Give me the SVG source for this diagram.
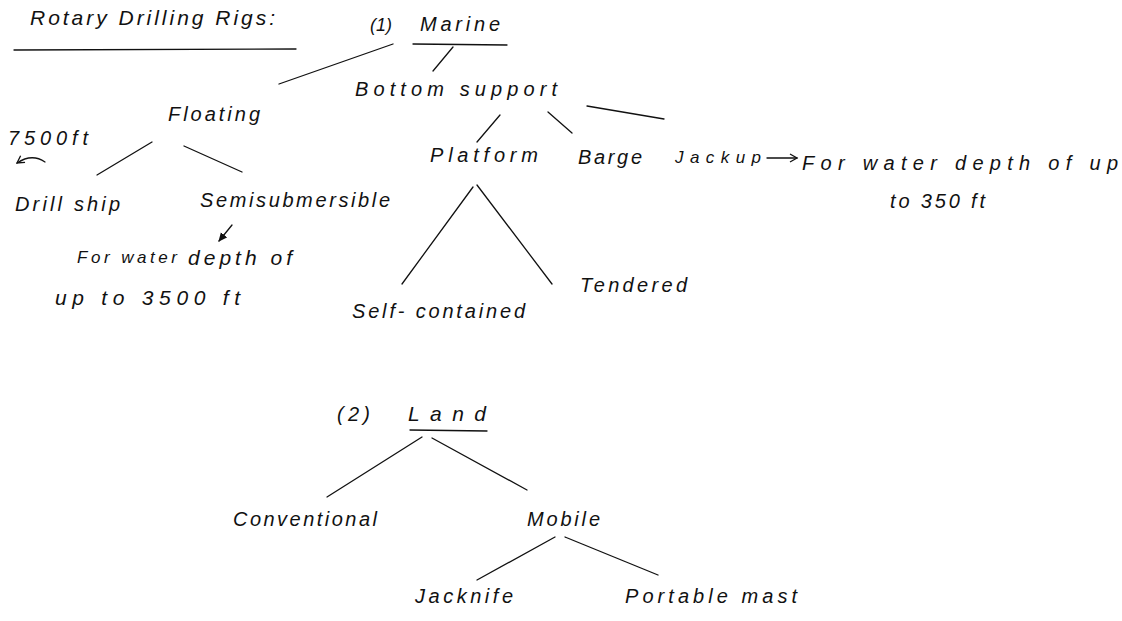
<svg xmlns="http://www.w3.org/2000/svg" width="1122" height="621" viewBox="0 0 1122 621">
<style>
.t{font-family:"Liberation Sans","DejaVu Sans",sans-serif;font-style:italic;fill:#111;font-size:20px}
.s{font-size:17px}
.b{font-size:21px}
.c line,.c path,.u{stroke:#111;stroke-width:1.3;fill:none;stroke-linecap:round}
</style>
<defs>
<marker id="open" markerWidth="10" markerHeight="10" refX="8" refY="5" orient="auto" markerUnits="userSpaceOnUse">
<path d="M1,1 L8,5 L1,9" fill="none" stroke="#111" stroke-width="1.3"/>
</marker>
<marker id="fill" markerWidth="10" markerHeight="10" refX="8" refY="5" orient="auto" markerUnits="userSpaceOnUse">
<path d="M0,1 L9,5 L0,9 Z" fill="#111"/>
</marker>
</defs>
<rect width="1122" height="621" fill="#fff"/>

<g id="title">
<text class="t b" x="30" y="25" textLength="245" lengthAdjust="spacing">Rotary Drilling Rigs:</text>
<line class="u" x1="14" y1="50" x2="296" y2="49"/>
</g>
<g id="marine">
<text class="t" x="370" y="31" textLength="22" lengthAdjust="spacing" style="font-size:18px">(1)</text>
<text class="t" x="420" y="31" textLength="80" lengthAdjust="spacing">Marine</text>
<line class="u" x1="413" y1="44" x2="507" y2="45"/>
</g>
<g id="floating"><text class="t" x="168" y="121" textLength="92" lengthAdjust="spacing">Floating</text></g>
<g id="bottom-support"><text class="t" x="355" y="96" textLength="202" lengthAdjust="spacing">Bottom support</text></g>
<g id="note-7500"><text class="t" x="8" y="145" textLength="80" lengthAdjust="spacing">7500ft</text></g>
<g id="drill-ship"><text class="t" x="15" y="211" textLength="105" lengthAdjust="spacing">Drill ship</text></g>
<g id="semisubmersible"><text class="t" x="200" y="207" textLength="190" lengthAdjust="spacing">Semisubmersible</text></g>
<g id="note-3500">
<text class="t s" x="77" y="263" textLength="100" lengthAdjust="spacing">For water</text>
<text class="t b" x="188" y="265" textLength="104" lengthAdjust="spacing">depth of</text>
<text class="t b" x="55" y="305" textLength="185" lengthAdjust="spacing">up to 3500 ft</text>
</g>
<g id="platform"><text class="t" x="430" y="162" textLength="108" lengthAdjust="spacing">Platform</text></g>
<g id="barge"><text class="t" x="578" y="164" textLength="64" lengthAdjust="spacing">Barge</text></g>
<g id="jackup"><text class="t s" x="675" y="163" textLength="86" lengthAdjust="spacing">Jackup</text></g>
<g id="note-350">
<text class="t" x="802" y="170" textLength="316" lengthAdjust="spacing">For water depth of up</text>
<text class="t" x="890" y="208" textLength="95" lengthAdjust="spacing">to 350 ft</text>
</g>
<g id="self-contained"><text class="t" x="352" y="318" textLength="173" lengthAdjust="spacing">Self- contained</text></g>
<g id="tendered"><text class="t" x="580" y="292" textLength="107" lengthAdjust="spacing">Tendered</text></g>
<g id="land">
<text class="t" x="337" y="421" textLength="33" lengthAdjust="spacing">(2)</text>
<text class="t b" x="408" y="421" textLength="78" lengthAdjust="spacing">Land</text>
<line class="u" x1="410" y1="430" x2="487" y2="431"/>
</g>
<g id="conventional"><text class="t" x="233" y="526" textLength="144" lengthAdjust="spacing">Conventional</text></g>
<g id="mobile"><text class="t" x="527" y="526" textLength="73" lengthAdjust="spacing">Mobile</text></g>
<g id="jacknife"><text class="t" x="415" y="603" textLength="98" lengthAdjust="spacing">Jacknife</text></g>
<g id="portable-mast"><text class="t" x="625" y="603" textLength="172" lengthAdjust="spacing">Portable mast</text></g>

<g id="connectors" class="c">
<line x1="393" y1="44" x2="279" y2="84"/>
<line x1="453" y1="47" x2="433" y2="71"/>
<line x1="500" y1="115" x2="477" y2="142"/>
<line x1="548" y1="112" x2="572" y2="133"/>
<line x1="587" y1="106" x2="664" y2="119"/>
<line x1="152" y1="142" x2="97" y2="175"/>
<line x1="184" y1="146" x2="242" y2="172"/>
<line x1="473" y1="187" x2="402" y2="284"/>
<line x1="477" y1="185" x2="552" y2="284"/>
<line x1="422" y1="437" x2="327" y2="497"/>
<line x1="432" y1="438" x2="527" y2="490"/>
<line x1="555" y1="537" x2="477" y2="580"/>
<line x1="565" y1="537" x2="658" y2="575"/>
<line x1="767" y1="158" x2="797" y2="158" marker-end="url(#open)"/>
<line x1="232" y1="225" x2="219" y2="241" marker-end="url(#fill)"/>
<path d="M45,162 Q32,153 17,163" marker-end="url(#open)"/>
</g>
</svg>
